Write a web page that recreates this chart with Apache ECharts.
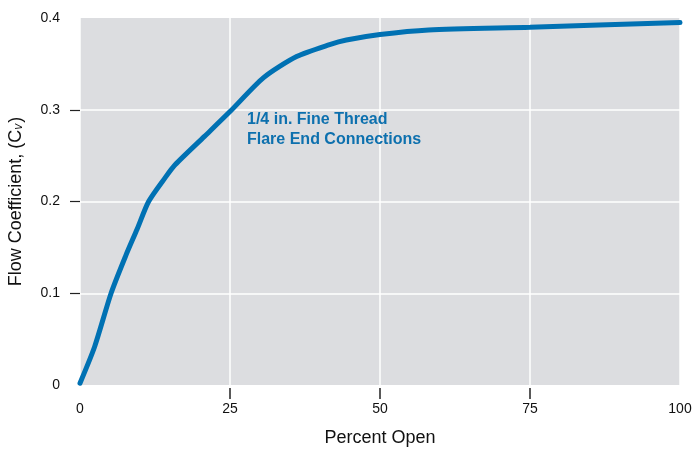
<!DOCTYPE html>
<html>
<head>
<meta charset="utf-8">
<script src="https://cdn.jsdelivr.net/npm/echarts@6/dist/echarts.min.js"></script>
<style>html,body{margin:0;padding:0;background:#fff;}#c{width:695px;height:450px;}</style>
</head>
<body>
<div id="c"></div>
<script>
var percentOpen = [0, 2.45, 5.18, 7.63, 9.53, 11.44, 14.2, 15.85, 20.75, 25, 30.6, 36.1, 41.6, 44.4, 50, 58.1, 75, 100];
var flowCv =      [0.002, 0.042, 0.100, 0.141, 0.170, 0.200, 0.226, 0.240, 0.271, 0.298, 0.335, 0.358, 0.371, 0.376, 0.382, 0.387, 0.390, 0.395];
var xTicks = [0, 25, 50, 75, 100];
var yTicks = [0, 0.1, 0.2, 0.3, 0.4];
var xTickMarks = [25, 50, 75];
var yTickMarks = [0.1, 0.2, 0.3];
var seriesLabel = ['1/4 in. Fine Thread', 'Flare End Connections'];

var font = '"Liberation Sans", Arial, Helvetica, sans-serif';
var chart = echarts.init(document.getElementById('c'), null, {renderer: 'canvas'});
var data = percentOpen.map(function (x, i) { return [x, flowCv[i]]; });

chart.setOption({
  animation: false,
  textStyle: {fontFamily: font},
  grid: {left: 80, right: 15, top: 18, bottom: 65, show: true, backgroundColor: '#dcdde0', borderWidth: 0,
         outerBoundsMode: 'none', containLabel: false},
  xAxis: {
    type: 'value', min: 0, max: 100, interval: 25,
    axisLine: {show: false},
    axisTick: {show: false},
    axisLabel: {color: '#111', fontSize: 14, margin: 17, fontFamily: font, customValues: xTicks},
    splitLine: {show: true, lineStyle: {color: '#ffffff', width: 1.5}},
    name: 'Percent Open', nameLocation: 'middle', nameGap: 44,
    nameTextStyle: {color: '#111', fontSize: 18, fontFamily: font}
  },
  yAxis: {
    type: 'value', min: 0, max: 0.4, interval: 0.1,
    offset: 2,
    axisLine: {show: false},
    axisTick: {show: true, length: 10, lineStyle: {color: '#222', width: 1.2}, customValues: yTickMarks},
    axisLabel: {color: '#111', fontSize: 14, margin: 18, fontFamily: font, customValues: yTicks,
      formatter: function (v) { return v === 0 ? '0' : v.toFixed(1); }},
    splitLine: {show: true, lineStyle: {color: '#ffffff', width: 1.5}},
    name: '{a|Flow Coefficient, (C}{s|v}{a|)}', nameLocation: 'middle', nameGap: 53,
    nameTextStyle: {
      color: '#111', fontSize: 18, fontFamily: font,
      rich: {
        a: {fontSize: 18, color: '#111', fontFamily: font},
        s: {fontSize: 12, color: '#111', fontFamily: font, fontStyle: 'italic', verticalAlign: 'bottom', padding: [6, 1, 0, 0]}
      }
    }
  },
  series: [{
    type: 'line', data: data, smooth: 0.25, showSymbol: false,
    lineStyle: {color: '#0071b3', width: 5, cap: 'round'},
    clip: false, z: 3
  }, {
    type: 'custom', silent: true, clip: false, z: 10,
    coordinateSystem: 'cartesian2d',
    data: xTickMarks.map(function (v) { return [v, 0]; }),
    encode: {x: 0, y: 1},
    renderItem: function (params, api) {
      var p = api.coord([api.value(0), api.value(1)]);
      return {
        type: 'line',
        shape: {x1: p[0], y1: p[1] + 3, x2: p[0], y2: p[1] + 14},
        style: {stroke: '#222', lineWidth: 1.5}
      };
    }
  }],
  graphic: [{
    type: 'text', left: 247, top: 110, z: 100,
    style: {text: seriesLabel.join('\n'), fill: '#0d70ae', font: 'bold 16px ' + font, lineHeight: 20}
  }]
});
</script>
</body>
</html>
